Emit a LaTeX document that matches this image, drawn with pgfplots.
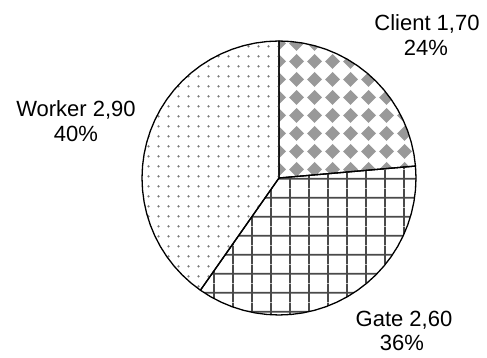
\documentclass[border=0pt]{standalone}
\usepackage{pgfplots}
\pgfplotsset{compat=1.18}
\usepackage{fontspec}
\setmainfont{Liberation Sans}
\usetikzlibrary{patterns.meta}

\definecolor{diamgray}{HTML}{999999}
\definecolor{gridgray}{HTML}{4A4A4A}
\definecolor{dotgray}{HTML}{7A7A7A}

\tikzdeclarepattern{
  name=clientdiamonds, type=colored,
  bottom left={(0pt,0pt)}, top right={(18pt,18pt)},
  tile size={(18pt,18pt)},
  code={\fill[diamgray] (9pt,1.2pt) -- (16.8pt,9pt) -- (9pt,16.8pt) -- (1.2pt,9pt) -- cycle;}
}
\tikzdeclarepattern{
  name=gategrid, type=colored,
  bottom left={(0pt,0pt)}, top right={(18.6pt,18.6pt)},
  tile size={(18.6pt,18.6pt)},
  code={\fill[gridgray] (8.4pt,0pt) rectangle (10.2pt,18.6pt);
        \fill[gridgray] (0pt,8.4pt) rectangle (18.6pt,10.2pt);}
}
\tikzdeclarepattern{
  name=workerdots, type=colored,
  bottom left={(0pt,0pt)}, top right={(9.6pt,9.6pt)},
  tile size={(9.6pt,9.6pt)},
  code={\fill[dotgray] (4.8pt,4.8pt) circle (1.3pt);}
}

\newcommand{\lbl}{\fontsize{22}{25}\selectfont}

\begin{document}
\begin{tikzpicture}
\begin{axis}[
  scale only axis, width=487pt, height=358pt,
  xmin=-279, xmax=208, ymin=-180, ymax=178,
  hide axis, clip=false]
% Client 1.70 -> 85 deg (90 .. 5)
\addplot[data cs=polar, pattern=clientdiamonds, draw=black, line width=1.3pt, line join=round]
 coordinates {(0,0) (90,137) (85,137) (80,137) (75,137) (70,137) (65,137) (60,137) (55,137)
 (50,137) (45,137) (40,137) (35,137) (30,137) (25,137) (20,137) (15,137) (10,137) (5,137)} -- cycle;
% Gate 2.60 -> 130 deg (5 .. -125)
\addplot[data cs=polar, pattern=gategrid, draw=black, line width=1.3pt, line join=round]
 coordinates {(0,0) (5,137) (0,137) (-5,137) (-10,137) (-15,137) (-20,137) (-25,137) (-30,137)
 (-35,137) (-40,137) (-45,137) (-50,137) (-55,137) (-60,137) (-65,137) (-70,137) (-75,137)
 (-80,137) (-85,137) (-90,137) (-95,137) (-100,137) (-105,137) (-110,137) (-115,137)
 (-120,137) (-125,137)} -- cycle;
% Worker 2.90 -> 145 deg (-125 .. -270)
\addplot[data cs=polar, pattern=workerdots, draw=black, line width=1.3pt, line join=round]
 coordinates {(0,0) (-125,137) (-130,137) (-135,137) (-140,137) (-145,137) (-150,137)
 (-155,137) (-160,137) (-165,137) (-170,137) (-175,137) (-180,137) (-185,137) (-190,137)
 (-195,137) (-200,137) (-205,137) (-210,137) (-215,137) (-220,137) (-225,137) (-230,137)
 (-235,137) (-240,137) (-245,137) (-250,137) (-255,137) (-260,137) (-265,137) (-270,137)} -- cycle;
\node[anchor=base, font=\lbl] at (axis cs:148,147) {Client 1,70};
\node[anchor=base, font=\lbl] at (axis cs:147,122) {24\%};
\node[anchor=base, font=\lbl] at (axis cs:-203,61) {Worker 2,90};
\node[anchor=base, font=\lbl] at (axis cs:-203,36) {40\%};
\node[anchor=base, font=\lbl] at (axis cs:125,-149) {Gate 2,60};
\node[anchor=base, font=\lbl] at (axis cs:123,-173) {36\%};
\end{axis}
\pgfresetboundingbox
\path (current axis.south west) rectangle (current axis.north east);
\end{tikzpicture}
\end{document}
